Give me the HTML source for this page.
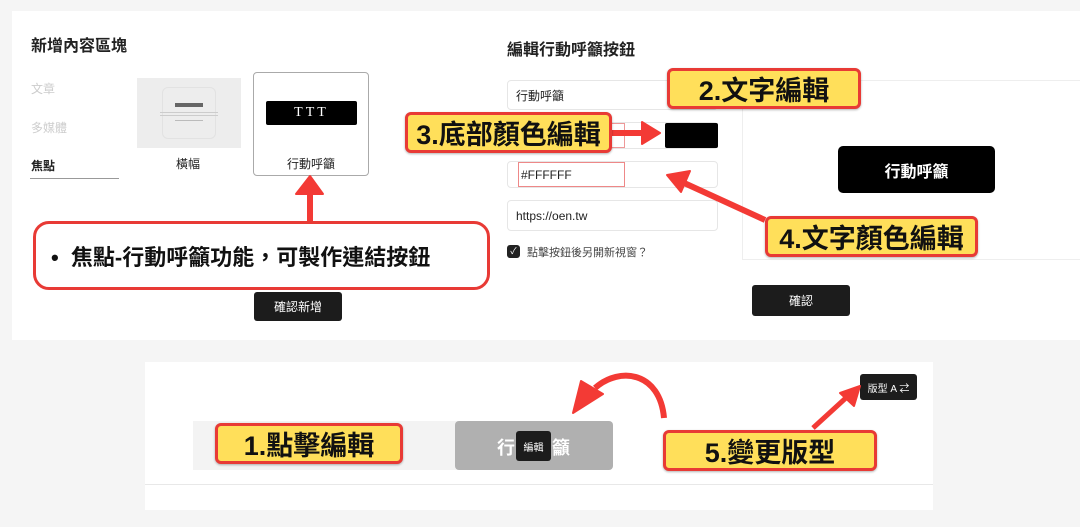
<!DOCTYPE html>
<html><head><meta charset="utf-8"><style>
*{margin:0;padding:0;box-sizing:border-box}
body{width:1080px;height:527px;background:#f5f5f5;position:relative;overflow:hidden;font-family:"Liberation Sans","Noto Sans CJK TC",sans-serif;color:#222}
.a{position:absolute}
.lbl{position:absolute;background:#ffdf5a;border:3px solid #e83a35;border-radius:6px;font-weight:bold;color:#111;display:flex;align-items:center;justify-content:center;font-size:27px;box-shadow:0 1px 2px rgba(0,0,0,.3)}
.inp{position:absolute;border:1px solid #e6e6e6;border-radius:4px;background:#fff;font-size:12px;display:flex;align-items:center;padding-left:8px}
.btn{position:absolute;background:#1c1c1c;color:#fff;border-radius:3px;font-size:12px;display:flex;align-items:center;justify-content:center}
</style></head><body>
<div class="a" style="left:12px;top:11px;width:1068px;height:329px;background:#fff"></div>
<div class="a" style="left:31px;top:32px;font-size:16px;font-weight:bold">新增內容區塊</div>
<div class="a" style="left:31px;top:80px;font-size:12px;color:#ccc">文章</div>
<div class="a" style="left:31px;top:119px;font-size:12px;color:#ccc">多媒體</div>
<div class="a" style="left:31px;top:157px;font-size:12px;font-weight:bold">焦點</div>
<div class="a" style="left:30px;top:178px;width:89px;height:1px;background:#999"></div>
<div class="a" style="left:137px;top:78px;width:104px;height:70px;background:#ededed"></div>
<div class="a" style="left:162px;top:87px;width:54px;height:52px;border:1px solid #e2e2e2;border-radius:6px"></div>
<div class="a" style="left:175px;top:103px;width:28px;height:4px;background:#666"></div>
<div class="a" style="left:160px;top:112px;width:58px;height:1px;background:#ccc;box-shadow:0 3px 0 #ccc"></div>
<div class="a" style="left:175px;top:120px;width:28px;height:1px;background:#bbb"></div>
<div class="a" style="left:176px;top:155px;font-size:12px">橫幅</div>
<div class="a" style="left:253px;top:72px;width:116px;height:104px;border:1px solid #aaa;border-radius:4px"></div>
<div class="a" style="left:266px;top:101px;width:91px;height:24px;background:#000;border-radius:2px;color:#fff;font-family:'Liberation Serif',serif;font-size:14px;letter-spacing:3px;text-align:center;line-height:24px">TTT</div>
<div class="a" style="left:287px;top:155px;font-size:12px">行動呼籲</div>
<div class="btn" style="left:254px;top:292px;width:88px;height:29px">確認新增</div>

<div class="a" style="left:507px;top:36px;font-size:16px;font-weight:bold">編輯行動呼籲按鈕</div>
<div class="a" style="left:742px;top:80px;width:338px;height:180px;border:1px solid #eee;border-right:none;background:#fff"></div>
<div class="inp" style="left:507px;top:80px;width:211px;height:30px">行動呼籲</div>
<div class="inp" style="left:507px;top:122px;width:211px;height:27px"></div>
<div class="a" style="left:518px;top:123px;width:107px;height:25px;border:1px solid #e99"></div>
<div class="a" style="left:665px;top:123px;width:53px;height:25px;background:#000;border-radius:2px"></div>
<div class="inp" style="left:507px;top:161px;width:211px;height:27px"></div>
<div class="a" style="left:518px;top:162px;width:107px;height:25px;border:1px solid #e88;font-size:12px;line-height:24px;padding-left:2px">#FFFFFF</div>
<div class="inp" style="left:507px;top:200px;width:211px;height:31px;font-size:12px">https://oen.tw</div>
<div class="a" style="left:507px;top:245px;width:13px;height:13px;background:#222;border-radius:3px;color:#fff;font-size:9px;text-align:center;line-height:13px">✓</div>
<div class="a" style="left:527px;top:244px;font-size:11px;color:#444">點擊按鈕後另開新視窗？</div>
<div class="a" style="left:838px;top:146px;width:157px;height:47px;background:#000;border-radius:5px;color:#fff;font-weight:bold;font-size:16px;display:flex;align-items:center;justify-content:center">行動呼籲</div>
<div class="btn" style="left:752px;top:285px;width:98px;height:31px">確認</div>

<div class="a" style="left:145px;top:362px;width:788px;height:148px;background:#fff"></div>
<div class="a" style="left:145px;top:484px;width:788px;height:1px;background:#e8e8e8"></div>
<div class="a" style="left:193px;top:421px;width:408px;height:49px;background:#f3f3f3"></div>
<div class="a" style="left:455px;top:421px;width:158px;height:49px;background:#b0b0b0;border-radius:4px;color:#fff;font-weight:bold;font-size:18px"><span class="a" style="left:42px;top:13px">行</span><span class="a" style="left:97px;top:13px">籲</span></div>
<div class="a" style="left:516px;top:431px;width:35px;height:30px;background:#1c1c1c;border-radius:3px;color:#fff;font-size:10px;display:flex;align-items:center;justify-content:center">編輯</div>
<div class="btn" style="left:860px;top:374px;width:57px;height:26px;font-size:10px">版型 A ⇄</div>

<svg class="a" style="left:0;top:0" width="1080" height="527">
<g fill="#f33a35" stroke="#f33a35">
<line x1="310" y1="222" x2="310" y2="190" stroke-width="6"/>
<polygon points="296,194 310,176 323,194" stroke-width="2" stroke-linejoin="round"/>
<line x1="610" y1="133" x2="645" y2="133" stroke-width="6"/>
<polygon points="642,122 660,133 642,144" stroke-width="2" stroke-linejoin="round"/>
<line x1="765" y1="220" x2="682" y2="182" stroke-width="6"/>
<polygon points="667,175 690,171 681,192" stroke-width="2" stroke-linejoin="round"/>
<line x1="813" y1="428" x2="848" y2="396" stroke-width="5"/>
<polygon points="860,386 854,406 840,393" stroke-width="2" stroke-linejoin="round"/>
<path d="M664,418 C660,372 620,366 595,388" fill="none" stroke-width="6"/>
<polygon points="573,413 581,381 603,394" stroke-width="2" stroke-linejoin="round"/>
</g>
</svg>

<div class="a" style="left:33px;top:221px;width:457px;height:69px;border:3px solid #e83a35;border-radius:16px;background:#fff;font-size:22px;font-weight:bold;color:#111;display:flex;align-items:center;padding-left:15px">•&nbsp; 焦點-行動呼籲功能，可製作連結按鈕</div>
<div class="lbl" style="left:667px;top:68px;width:194px;height:41px">2.文字編輯</div>
<div class="lbl" style="left:405px;top:112px;width:207px;height:41px">3.底部顏色編輯</div>
<div class="lbl" style="left:765px;top:216px;width:213px;height:41px">4.文字顏色編輯</div>
<div class="lbl" style="left:215px;top:423px;width:188px;height:41px">1.點擊編輯</div>
<div class="lbl" style="left:663px;top:430px;width:214px;height:41px">5.變更版型</div>
</body></html>
